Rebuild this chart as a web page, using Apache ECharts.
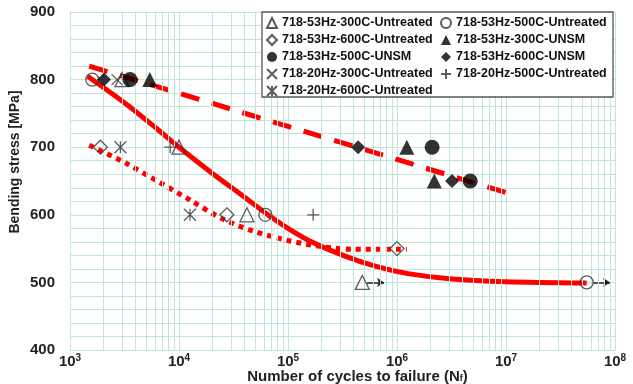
<!DOCTYPE html>
<html>
<head>
<meta charset="utf-8">
<script src="https://cdn.jsdelivr.net/npm/echarts@6/dist/echarts.min.js"></script>
<style>
  html, body { margin: 0; padding: 0; background: #fff; }
  #chart { width: 633px; height: 384px; }
</style>
</head>
<body>
<div id="chart"></div>
<script>
// S-N data: [cycles to failure, bending stress MPa]
const untr53_300 = [[3.0e3, 800], [1.0e4, 700], [4.2e4, 600], [4.8e5, 500]];
const untr53_500 = [[1.6e3, 800], [6.2e4, 600], [5.5e7, 500]];
const untr53_600 = [[1.9e3, 700], [2.75e4, 600], [1.0e6, 550]];
const unsm53_300 = [[5.4e3, 800], [1.23e6, 700], [2.2e6, 650]];
const unsm53_500 = [[3.55e3, 800], [2.1e6, 700], [4.7e6, 650]];
const unsm53_600 = [[2.05e3, 800], [4.4e5, 700], [3.2e6, 650]];
const untr20_300 = [[2.7e3, 800]];
const untr20_500 = [[8.3e3, 700], [1.7e5, 600]];
const untr20_600 = [[2.9e3, 700], [1.26e4, 600]];

// fitted curves
const fitUnsm = [[1.5e3, 820], [1.0e7, 633]];
const fitUntr = [[1.45e3, 805], [3.2e3, 765], [6.3e3, 727], [1.0e4, 700], [2.0e4, 662],
  [4.0e4, 626], [6.3e4, 602], [1.0e5, 580], [1.6e5, 561], [3.2e5, 540], [6.3e5, 524],
  [1.26e6, 513], [3.2e6, 505], [1.0e7, 501], [5.5e7, 499]];
const fit600 = [[1.5e3, 703], [3.2e3, 677], [6.3e3, 650], [1.26e4, 622], [2.5e4, 594],
  [5.0e4, 575], [1.0e5, 562], [2.0e5, 553], [4.0e5, 549], [1.23e6, 549]];

// run-out arrows
const runout = [[[5.3e5, 500], [7.6e5, 500]], [[6.3e7, 500], [9.0e7, 500]]];

const xDecades = [1e3, 1e4, 1e5, 1e6, 1e7];
const minorMult = [2, 3, 4, 5, 6, 7, 8, 9];

const FONT = 'Liberation Sans, Arial, sans-serif';
const GRID = '#bfe6da';
const RED = '#ff0000';

const P_CROSS = 'path://M0,0L10,10M10,0L0,10';
const P_PLUS = 'path://M5,0L5,10M0,5L10,5';
const P_STAR = 'path://M0,0L10,10M10,0L0,10M5,0L5,10';

const openStyle = { color: 'rgba(255,255,255,0)', borderColor: '#333', borderWidth: 1.3 };
const fillStyle = { color: '#000' };

const scatter = (name, data, symbol, size, style) => ({
  name, type: 'scatter', data, symbol, symbolSize: size, z: 5,
  itemStyle: style, emphasis: { disabled: true }
});

const minorX = [];
xDecades.forEach(d => minorMult.forEach(m => minorX.push({ xAxis: d * m })));

const chart = echarts.init(document.getElementById('chart'));

const legendText = { fontFamily: FONT, fontSize: 12.5, fontWeight: 'bold', color: '#111', lineHeight: 14 };
const legendBase = {
  orient: 'vertical', top: 16, itemGap: 3, itemWidth: 10, itemHeight: 10, z: 12,
  textStyle: legendText, padding: 0, selectedMode: false
};

const option = {
  animation: false,
  grid: { left: 70, right: 18, top: 12, bottom: 34, outerBoundsMode: 'none', containLabel: false },
  xAxis: {
    type: 'log', logBase: 10, min: 1e3, max: 1e8,
    name: 'Number of cycles to failure (N{sub|f})',
    nameLocation: 'middle', nameGap: 19, nameMoveOverlap: false,
    nameTextStyle: {
      fontFamily: FONT, fontSize: 15, fontWeight: 'bold', color: '#222', padding: [0, 0, 0, 30],
      rich: { sub: { fontFamily: FONT, fontSize: 9, fontWeight: 'bold', color: '#222', padding: [4, 0, 0, 0] } }
    },
    axisLine: { lineStyle: { color: GRID } },
    axisTick: { show: false },
    splitLine: { show: true, lineStyle: { color: GRID } },
    axisLabel: {
      margin: 3,
      formatter: v => '{b|10}{s|' + Math.round(Math.log10(v)) + '}',
      rich: {
        b: { fontFamily: FONT, fontSize: 15, fontWeight: 'bold', color: '#222' },
        s: { fontFamily: FONT, fontSize: 10, fontWeight: 'bold', color: '#222', padding: [0, 0, 7, 0] }
      }
    }
  },
  yAxis: {
    type: 'value', min: 400, max: 900, interval: 100,
    axisLine: { show: true, lineStyle: { color: GRID } },
    axisTick: { show: false },
    minorTick: { show: false, splitNumber: 5 },
    splitLine: { lineStyle: { color: GRID } },
    minorSplitLine: { show: true, lineStyle: { color: GRID } },
    axisLabel: { margin: 15, fontFamily: FONT, fontSize: 15, fontWeight: 'bold', color: '#222' }
  },
  legend: [
    Object.assign({}, legendBase, {
      left: 266,
      data: [
        { name: '718-53Hz-300C-Untreated', icon: 'triangle' },
        { name: '718-53Hz-600C-Untreated', icon: 'diamond' },
        { name: '718-53Hz-500C-UNSM', icon: 'circle' },
        { name: '718-20Hz-300C-Untreated', icon: P_CROSS },
        { name: '718-20Hz-600C-Untreated', icon: P_STAR }
      ]
    }),
    Object.assign({}, legendBase, {
      left: 440,
      data: [
        { name: '718-53Hz-500C-Untreated', icon: 'circle' },
        { name: '718-53Hz-300C-UNSM', icon: 'triangle' },
        { name: '718-53Hz-600C-UNSM', icon: 'diamond' },
        { name: '718-20Hz-500C-Untreated', icon: P_PLUS }
      ]
    })
  ],
  graphic: [
    {
      type: 'rect', z: 10, silent: true,
      shape: { x: 262, y: 12, width: 351, height: 85 },
      style: { fill: '#fff', stroke: '#555', lineWidth: 1.3 }
    },
    {
      type: 'text', x: 15, y: 162, rotation: Math.PI / 2, silent: true,
      style: {
        text: 'Bending stress [MPa]', fontFamily: FONT, fontSize: 14, fontWeight: 'bold',
        fill: '#222', align: 'center', verticalAlign: 'middle'
      }
    }
  ],
  series: [
    {
      name: 'minor', type: 'line', data: [[1e3, 400]], showSymbol: false, z: 1,
      lineStyle: { width: 0 },
      markLine: {
        silent: true, symbol: 'none', label: { show: false }, animation: false,
        lineStyle: { color: GRID, width: 1, type: 'solid' },
        data: minorX
      }
    },
    {
      name: 'fit-unsm', type: 'line', data: fitUnsm, showSymbol: false, z: 3,
      lineStyle: { color: RED, width: 5, type: [19, 13] }
    },
    {
      name: 'fit-untreated', type: 'line', data: fitUntr, showSymbol: false, smooth: 0.3, z: 3,
      lineStyle: { color: RED, width: 5 }
    },
    {
      name: 'fit-600', type: 'line', data: fit600, showSymbol: false, smooth: 0.3, z: 3,
      lineStyle: { color: RED, width: 5, type: [5, 5] }
    },
    {
      name: 'runout', type: 'lines', coordinateSystem: 'cartesian2d', z: 4,
      data: runout.map(c => ({ coords: c })),
      symbol: ['none', 'arrow'], symbolSize: 7,
      lineStyle: { color: '#222', width: 1.5, opacity: 1 }
    },
    scatter('718-53Hz-300C-Untreated', untr53_300, 'triangle', 14, openStyle),
    scatter('718-53Hz-500C-Untreated', untr53_500, 'circle', 13, openStyle),
    scatter('718-53Hz-600C-Untreated', untr53_600, 'diamond', 14, openStyle),
    scatter('718-53Hz-300C-UNSM', unsm53_300, 'triangle', 15, fillStyle),
    scatter('718-53Hz-500C-UNSM', unsm53_500, 'circle', 15, fillStyle),
    scatter('718-53Hz-600C-UNSM', unsm53_600, 'diamond', 14, fillStyle),
    scatter('718-20Hz-300C-Untreated', untr20_300, P_CROSS, 11, openStyle),
    scatter('718-20Hz-500C-Untreated', untr20_500, P_PLUS, 12, openStyle),
    scatter('718-20Hz-600C-Untreated', untr20_600, P_STAR, 12, openStyle)
  ]
};

chart.setOption(option);
</script>
</body>
</html>
